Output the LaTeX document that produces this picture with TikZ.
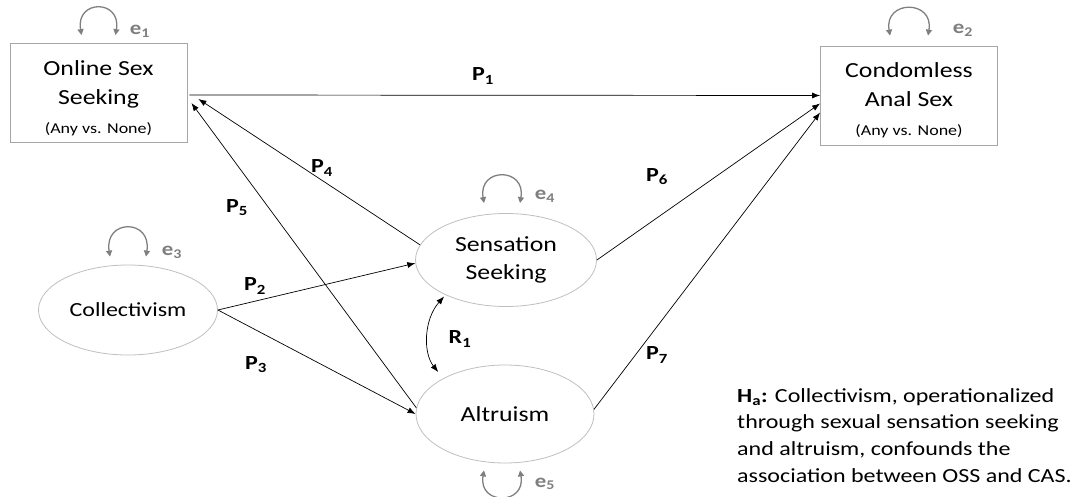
\documentclass[tikz,border=0pt]{standalone}
\usepackage{fontspec}
\setmainfont[FakeStretch=1.2]{Carlito}
\usepackage{xcolor}
\usetikzlibrary{arrows.meta,positioning,shapes.geometric}
\definecolor{boxgray}{HTML}{A6A6A6}
\definecolor{ellgray}{HTML}{BFBFBF}
\definecolor{errgray}{HTML}{7F7F7F}
\newcommand{\anyfont}{\fontsize{15}{29}\selectfont}
\newcommand{\boxlines}[2]{\raisebox{#1}[\height][\depth]{\begin{tabular}{@{}c@{}}#2\end{tabular}}}

\begin{document}
\begin{tikzpicture}[
  x=1pt,y=-1pt,
  observed/.style={draw=boxgray,thick,minimum width=177pt,minimum height=99pt,
                   inner sep=0pt,font=\fontsize{21.5}{29}\selectfont},
  latent/.style={ellipse,draw=ellgray,thick,inner sep=0pt,align=center,
                 font=\fontsize{21.5}{28}\selectfont},
  path/.style={-{Latex[length=8pt,width=6pt]},line width=0.7pt},
  covpath/.style={{Latex[length=8pt,width=6pt]}-{Latex[length=8pt,width=6pt]},line width=0.7pt},
  errloop/.style={draw=errgray,line width=1.3pt,
                  {Triangle[length=6pt,width=6pt]}-{Triangle[length=6pt,width=6pt]}},
  errlabel/.style={text=errgray,font=\fontsize{19}{22}\selectfont\bfseries},
  plabel/.style={font=\fontsize{20}{22}\selectfont\bfseries}]

\useasboundingbox (0,0) rectangle (1073,497);

% observed outcomes
\node[observed] (oss) at (98.5,93)  {\boxlines{-6pt}{Online Sex\\Seeking\\{\anyfont (Any vs. None)}}};
\node[observed] (cas) at (909,95.5) {\boxlines{-5pt}{Condomless\\Anal Sex\\{\anyfont (Any vs. None)}}};

% latent constructs
\node[latent,minimum width=179pt,minimum height=90pt,font=\fontsize{20}{28}\selectfont] (coll) at (128,310) {Collectivism};
\node[latent,minimum width=181pt,minimum height=93pt] (ss)  at (506,260) {Sensation\\Seeking};
\node[latent,minimum width=178pt,minimum height=98pt] (alt) at (505,414) {Altruism};

% error terms
\draw[errloop] ([xshift=-17pt,yshift=8pt]oss.north) .. controls +(-6pt,36pt) and +(6pt,36pt) .. ([xshift=17pt,yshift=8pt]oss.north);
\draw[errloop] ([xshift=-19pt,yshift=10pt]cas.north) .. controls +(-6pt,36pt) and +(6pt,36pt) .. ([xshift=19pt,yshift=10pt]cas.north);
\draw[errloop] ([xshift=-18pt,yshift=8pt]coll.north) .. controls +(-6pt,38pt) and +(6pt,38pt) .. ([xshift=18pt,yshift=8pt]coll.north);
\draw[errloop] ([xshift=-22pt,yshift=10pt]ss.north) .. controls +(-6pt,36pt) and +(6pt,36pt) .. ([xshift=14pt,yshift=10pt]ss.north);
\draw[errloop] ([xshift=-21pt,yshift=-7pt]alt.south) .. controls +(-6pt,-35pt) and +(6pt,-35pt) .. ([xshift=15pt,yshift=-7pt]alt.south);

\node[errlabel] (e1) at (140,31)  {e\textsubscript{1}};
\node[errlabel] (e2) at (963,30)  {e\textsubscript{2}};
\node[errlabel] (e3) at (172,252) {e\textsubscript{3}};
\node[errlabel] (e4) at (545,196) {e\textsubscript{4}};
\node[errlabel] (e5) at (545,484) {e\textsubscript{5}};

% structural paths
\draw[path] ([xshift=2pt,yshift=-2pt]oss.east) -- (cas.west);
\draw[path] (coll.east) -- (ss.182);
\draw[path] (coll.east) -- (alt.west);
\draw[path] (ss.170) -- ([xshift=11pt,yshift=-6pt]oss.east);
\draw[path] (alt.176) -- ([xshift=4pt,yshift=-10pt]oss.east);
\draw[path] (ss.east) -- ([yshift=-8pt]cas.west);
\draw[path] (alt.3) -- ([yshift=-17pt]cas.west);
\draw[covpath,shorten <=2pt,shorten >=8pt] (ss.210) to[bend right=40] (alt.150);

\node[plabel] (p1) at (483,76)  {P\textsubscript{1}};
\node[plabel] (p2) at (255,286) {P\textsubscript{2}};
\node[plabel] (p3) at (256,365) {P\textsubscript{3}};
\node[plabel] (p4) at (322,168) {P\textsubscript{4}};
\node[plabel] (p5) at (237,208) {P\textsubscript{5}};
\node[plabel] (p6) at (657,177) {P\textsubscript{6}};
\node[plabel] (p7) at (657,355) {P\textsubscript{7}};
\node[plabel] (r1) at (460,339) {R\textsubscript{1}};

% hypothesis
\node[anchor=north west,align=left,inner sep=0pt,
      font=\fontsize{20}{26.7}\selectfont] (hyp) at (737,388)
  {\textbf{H\textsubscript{a}:} Collectivism, operationalized\\
   through sexual sensation seeking\\
   and altruism, confounds the\\
   association between OSS and CAS.};
\end{tikzpicture}
\end{document}
